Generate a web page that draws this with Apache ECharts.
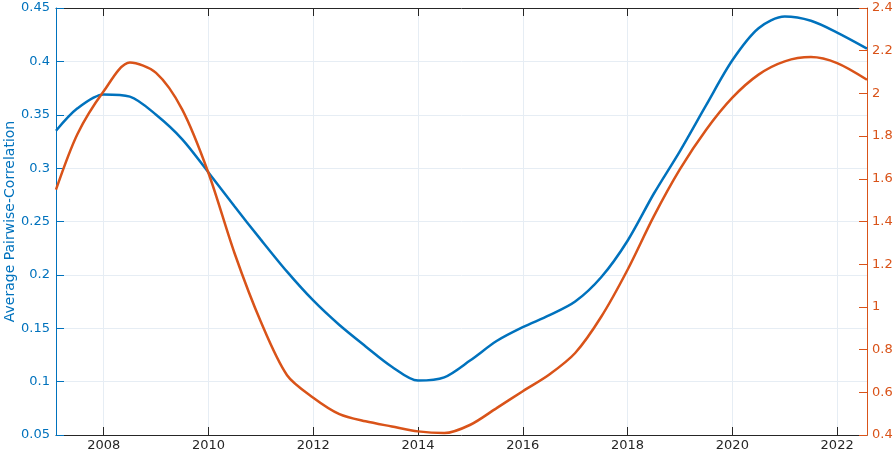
<!DOCTYPE html>
<html lang="en">
<head>
<meta charset="UTF-8">
<title></title>
<style>
    html, body { margin: 0; padding: 0; background: #fff; }
    #chart { width: 894px; height: 454px; }
</style>
</head>
<body>
<div id="chart"></div>
<script src="https://cdn.jsdelivr.net/npm/echarts@6/dist/echarts.min.js"></script>
<script>
    // data (half-year samples)
    var yearTicks = [2008, 2010, 2012, 2014, 2016, 2018, 2020, 2022];

    var years = [2007.09, 2007.5, 2008, 2008.5, 2009, 2009.5, 2010, 2010.5, 2011, 2011.5,
                 2012, 2012.5, 2013, 2013.5, 2014, 2014.5, 2015, 2015.5, 2016, 2016.5,
                 2017, 2017.5, 2018, 2018.5, 2019, 2019.5, 2020, 2020.5, 2021, 2021.5,
                 2022, 2022.57];

    var corrValues = [0.335, 0.356, 0.369, 0.367, 0.350, 0.327, 0.296, 0.264, 0.233, 0.203,
                      0.176, 0.153, 0.133, 0.114, 0.101, 0.104, 0.120, 0.138, 0.151, 0.162,
                      0.175, 0.198, 0.232, 0.276, 0.316, 0.359, 0.401, 0.431, 0.442, 0.438,
                      0.427, 0.412];

    var rightValues = [1.549, 1.81, 2.01, 2.145, 2.096, 1.924, 1.627, 1.25, 0.93, 0.68,
                       0.575, 0.498, 0.464, 0.440, 0.417, 0.409, 0.448, 0.526, 0.605, 0.682,
                       0.784, 0.955, 1.174, 1.424, 1.645, 1.83, 1.98, 2.088, 2.15, 2.170,
                       2.142, 2.064];

    var blue = '#0072BD';
    var orange = '#D95319';
    var dark = '#262626';
    var gridColor = '#e6edf4';
    var font = 'DejaVu Sans';

    function pairs(xs, ys) {
        return xs.map(function (x, i) { return [x, ys[i]]; });
    }

    var chart = echarts.init(document.getElementById('chart'));

    var option = {
        animation: false,
        textStyle: { fontFamily: font },
        grid: { left: 56, right: 27, top: 8, bottom: 19, outerBoundsMode: 'none', containLabel: false },
        xAxis: [{
            type: 'value',
            min: 2007.09,
            max: 2022.57,
            position: 'bottom',
            axisLine: { lineStyle: { color: dark } },
            axisTick: { inside: true, length: 8, customValues: yearTicks, lineStyle: { color: dark } },
            axisLabel: {
                customValues: yearTicks, color: dark, fontSize: 13, fontFamily: font, margin: 4,
                formatter: function (v) { return String(v); }
            },
            splitLine: { show: true, lineStyle: { color: gridColor } }
        }, {
            type: 'value',
            min: 2007.09,
            max: 2022.57,
            position: 'top',
            axisLine: { lineStyle: { color: dark } },
            axisTick: { inside: true, length: 8, customValues: yearTicks, lineStyle: { color: dark } },
            axisLabel: { show: false },
            splitLine: { show: false }
        }],
        yAxis: [{
            type: 'value',
            min: 0.05,
            max: 0.45,
            interval: 0.05,
            name: 'Average Pairwise-Correlation',
            nameLocation: 'middle',
            nameGap: 39,
            nameMoveOverlap: false,
            nameTextStyle: { color: blue, fontSize: 14, fontFamily: font },
            axisLine: { show: true, lineStyle: { color: blue } },
            axisTick: { show: true, inside: true, length: 8, lineStyle: { color: blue } },
            axisLabel: { color: blue, fontSize: 13, fontFamily: font, margin: 6 },
            splitLine: { show: true, lineStyle: { color: gridColor } }
        }, {
            type: 'value',
            min: 0.4,
            max: 2.4,
            interval: 0.2,
            position: 'right',
            axisLine: { show: true, lineStyle: { color: orange } },
            axisTick: { show: true, inside: true, length: 8, lineStyle: { color: orange } },
            axisLabel: { color: orange, fontSize: 13, fontFamily: font, margin: 5 },
            splitLine: { show: false }
        }],
        series: [{
            type: 'line',
            xAxisIndex: 0,
            yAxisIndex: 0,
            data: pairs(years, corrValues),
            smooth: 0.3,
            showSymbol: false,
            lineStyle: { color: blue, width: 2.5 },
            itemStyle: { color: blue }
        }, {
            type: 'line',
            xAxisIndex: 0,
            yAxisIndex: 1,
            data: pairs(years, rightValues),
            smooth: 0.3,
            showSymbol: false,
            lineStyle: { color: orange, width: 2.5 },
            itemStyle: { color: orange }
        }]
    };

    chart.setOption(option);
</script>
</body>
</html>
